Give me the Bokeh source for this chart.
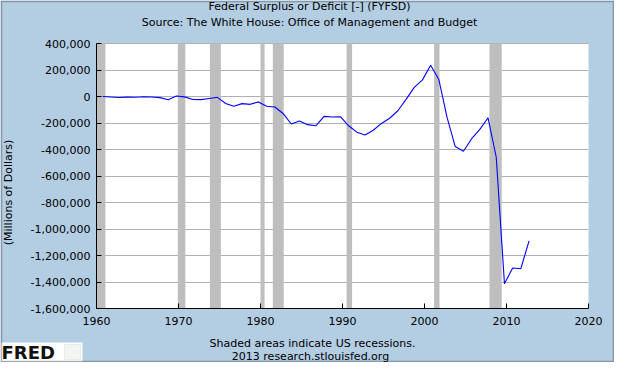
from bokeh.plotting import figure
from bokeh.models import (FixedTicker, NumeralTickFormatter, BoxAnnotation, Label,
                          ColumnDataSource, Range1d, LinearAxis, Grid)
from bokeh.embed import file_html
from bokeh.resources import INLINE

# Fiscal years and federal surplus(+)/deficit(-) in millions of dollars
fiscal_years = list(range(1960, 2013))
surplus_deficit = [
    301, -3335, -7146, -4756, -5915, -1411, -3698, -8643, -25161, 3242,
    -2842, -23033, -23373, -14908, -6135, -53242, -73732, -53659, -59185, -40726,
    -73830, -78968, -127977, -207802, -185367, -212308, -221227, -149730, -155178, -152639,
    -221036, -269238, -290321, -255051, -203186, -163952, -107431, -21884, 69270, 125610,
    236241, 128236, -157758, -377585, -412727, -318346, -248181, -160701, -458553, -1412688,
    -1294373, -1299595, -1089353,
]
# observation dated at the end of the fiscal year (Oct 1)
fy_offset = 0.75

# NBER recessions (decimal years: start, end)
recession_start = [1960.0, 1969.92, 1973.83, 1980.0, 1981.5, 1990.5, 2001.17, 2007.92]
recession_end = [1961.08, 1970.83, 1975.17, 1980.5, 1982.83, 1991.17, 2001.83, 2009.42]

x_ticks = [1960, 1970, 1980, 1990, 2000, 2010, 2020]
y_ticks = [400000, 200000, 0, -200000, -400000, -600000, -800000, -1000000,
           -1200000, -1400000, -1600000]

X0, X1 = 1960, 2020
Y0, Y1 = -1600000, 400000

BG = "#B3CDE3"
FONT = "DejaVu Sans"

# canvas size and the pixel box of the plotting area inside it
W, H = 614, 362
PL, PR, PT, PB = 96, 588, 43, 308

# the frame spans the whole canvas; extend the ranges so the data box lands on PL..PR / PT..PB
sx = (X1 - X0) / (PR - PL)
sy = (Y1 - Y0) / (PB - PT)
x_range = Range1d(X0 - PL * sx, X1 + (W - PR) * sx)
y_range = Range1d(Y0 - (H - PB) * sy, Y1 + PT * sy)

p = figure(width=W, height=H, output_backend="svg", toolbar_location=None,
           title=None, x_range=x_range, y_range=y_range,
           x_axis_type=None, y_axis_type=None,
           min_border=0, min_border_left=0, min_border_right=0,
           min_border_top=0, min_border_bottom=0)
p.background_fill_color = BG
p.border_fill_color = BG
p.outline_line_color = None

# white plotting area
p.add_layout(BoxAnnotation(left=X0, right=X1, bottom=Y0, top=Y1, fill_color="white",
                           fill_alpha=1.0, line_color=None, level="image"))

# axes drawn at the edges of the data box
xaxis = LinearAxis(ticker=FixedTicker(ticks=x_ticks), fixed_location=Y0, bounds=(X0, X1))
yaxis = LinearAxis(ticker=FixedTicker(ticks=y_ticks), fixed_location=X0, bounds=(Y0, Y1),
                   formatter=NumeralTickFormatter(format="0,0"))
for ax in (xaxis, yaxis):
    ax.major_tick_in = 5
    ax.major_tick_out = 0
    ax.minor_tick_line_color = None
    ax.axis_line_color = "black"
    ax.major_tick_line_color = "black"
    ax.major_label_text_font = FONT
    ax.major_label_text_font_size = "11px"
    ax.major_label_text_color = "black"
xaxis.major_label_standoff = 8
yaxis.major_label_standoff = 6
p.add_layout(xaxis, "below")
p.add_layout(yaxis, "left")

ygrid = Grid(dimension=1, ticker=yaxis.ticker, bounds=(Y0, Y1), cross_bounds=(X0, X1),
             grid_line_color="#B0B0B0", grid_line_width=1, level="underlay")
p.add_layout(ygrid)

for s, e in zip(recession_start, recession_end):
    p.add_layout(BoxAnnotation(left=s, right=e, bottom=Y0, top=Y1, fill_color="#BEBEBE",
                               fill_alpha=1.0, line_color=None, level="underlay"))

src = ColumnDataSource(data=dict(x=[y + fy_offset for y in fiscal_years], y=surplus_deficit))
p.line("x", "y", source=src, line_color="#0000FF", line_width=1.1)


def screen_label(text, x, y_from_top, size="11px", angle=0, align="center",
                 style="normal", color="black", **kw):
    lab = Label(x=x, y=H - y_from_top, x_units="screen", y_units="screen",
                text=text, text_font=FONT, text_font_size=size, text_color=color,
                text_align=align, text_baseline="middle", angle=angle,
                text_font_style=style, **kw)
    p.add_layout(lab)

screen_label("Federal Surplus or Deficit [-] (FYFSD)", 309, 6)
screen_label("Source: The White House: Office of Management and Budget", 309, 22)
screen_label("(Millions of Dollars)", 8, 192, angle=1.5708)
screen_label("Shaded areas indicate US recessions.", 312, 343)
screen_label("2013 research.stlouisfed.org", 310, 356)


def screen_box(l, r, top_from_top, bottom_from_top, **kw):
    p.add_layout(BoxAnnotation(left=l, right=r, bottom=H - bottom_from_top,
                               top=H - top_from_top,
                               left_units="screen", right_units="screen",
                               bottom_units="screen", top_units="screen", **kw))

# FRED logo
screen_box(0, 82, 342, 361, fill_color="white", fill_alpha=1.0, line_color=None)
screen_box(64, 80, 344, 359, fill_color="#F2F5F2", fill_alpha=1.0, line_color="#C8C8C8")
screen_label("FRED", 1, 352, size="18px", align="left", style="bold", color="#111111")

# outer frame line
screen_box(1, W - 1, 1, H - 1, fill_alpha=0, line_color="#1A1A1A", line_width=1.5)

open("out.html", "w").write(file_html(p, INLINE))
